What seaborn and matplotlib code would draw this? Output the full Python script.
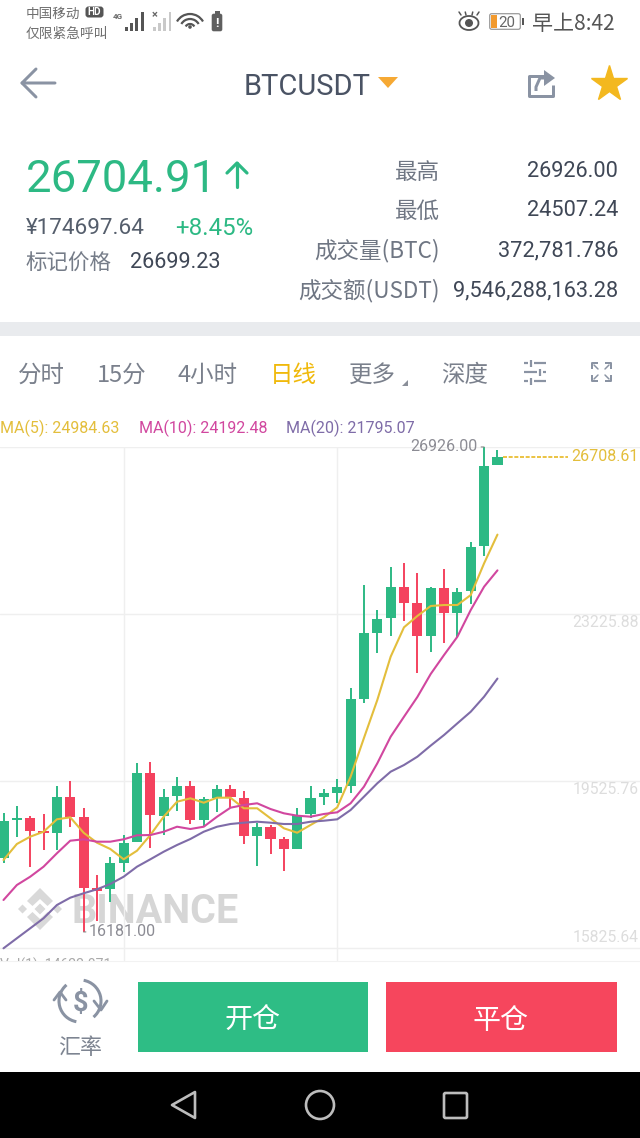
import numpy as np
import pandas as pd
import matplotlib
matplotlib.use("Agg")
import matplotlib.pyplot as plt
from matplotlib.patches import Rectangle, Polygon, Circle, Arc, FancyBboxPatch
from matplotlib.transforms import blended_transform_factory
import seaborn as sns

# ---------- data ----------
opens  = [17820,18662,18706,18418,18380,19165,18721,17148,17133,17716,18174,19703,18757,19200,19415,18662,19149,19355,19156,18314,
          18513,18234,18026,18788,19165,19267,19415,21343,22812,23131,23831,23463,22739,23809,23242,23742,24739,26521]
closes = [18646,18713,18425,18374,19165,18721,17148,17095,17702,18159,19703,18766,19178,19415,18662,19120,19355,19165,18314,18513,
          18247,18026,18766,19156,19253,19400,21343,22798,23109,23831,23476,22739,23809,23242,23720,24717,26505,26708.61]
highs  = [18817,18972,18757,18795,19415,19532,18921,17443,17848,18329,19931,19947,19342,19621,19519,19178,19430,19430,19304,18602,
          18551,18278,18934,19415,19342,19577,21580,23875,23315,24274,24363,24128,23831,24223,23809,24815,26926,26860]
lows   = [17716,18292,17627,17997,17997,18500,16181,16430,16851,17516,18174,18041,18329,18861,18566,18513,18846,18934,18123,17642,
          17902,17538,18012,18699,18994,19032,19267,21254,22369,22739,23078,21925,22391,22577,22723,23448,24511,26521]
ma5    = [17775,18130,18292,18402,18677,18721,18380,18159,18019,17791,17981,18329,18735,19067,19142,19045,19156,19156,18921,18921,
          18699,18478,18380,18551,18721,18943,19621,20479,21320,22280,22931,23182,23403,23425,23425,23647,24349,24984.63]
ma10   = [16889,17221,17405,17627,17924,18203,18234,18181,18181,18234,18323,18329,18402,18513,18462,18513,18735,18934,18994,19032,
          18905,18810,18757,18735,18795,18832,19032,19400,19918,20507,20950,21387,21897,22318,22723,23315,23831,24192.48]
ma20   = [15819,16041,16262,16484,16778,16940,17038,17126,17244,17405,17627,17791,17959,18108,18241,18402,18513,18573,18602,18624,
          18602,18573,18573,18624,18646,18677,18883,19178,19475,19732,19880,20064,20310,20545,20804,21061,21394,21795.07]
grid_prices = [26926.00, 23225.88, 19525.76, 15825.64]
axis_labels = ["23225.88", "19525.76", "15825.64"]
tabs = ["分时", "15分", "4小时", "日线", "更多", "深度"]
stats_labels = ["最高", "最低", "成交量(BTC)", "成交额(USDT)"]
stats_values = ["26926.00", "24507.24", "372,781.786", "9,546,288,163.28"]
ma_legend = ["MA(5): 24984.63", "MA(10): 24192.48", "MA(20): 21795.07"]

GREEN, RED = "#2DB984", "#F4425E"
C5, C10, C20 = "#E3BE3C", "#D1479F", "#7F6CA8"
GREY_ICON = "#8A93A3"

sns.set_theme(style="white")
plt.rcParams["font.family"] = ["Roboto", "Noto Sans CJK SC", "DejaVu Sans"]
CJK = ["Noto Sans CJK SC", "DejaVu Sans"]

fig = plt.figure(figsize=(6.4, 11.38), dpi=100, facecolor="white")
ui = fig.add_axes([0, 0, 1, 1], zorder=1)
ui.set_xlim(0, 640); ui.set_ylim(1138, 0); ui.axis("off")

def T(x, y, s, px, color, ha="left", weight="normal", family=None, ax=ui, **kw):
    return ax.text(x, y + 0.09 * px, s, fontsize=px * 0.72, color=color, ha=ha, va="center",
                   fontweight=weight, family=family or plt.rcParams["font.family"], **kw)

def L(xs, ys, color=GREY_ICON, px=2.0, **kw):
    ui.plot(xs, ys, color=color, lw=px * 0.72, solid_capstyle=kw.pop("cap", "round"),
            solid_joinstyle="round", **kw)

# ---------- status bar ----------
T(26, 12.5, "中国移动", 13.6, "#6F6F6F", family=CJK)
T(26, 33, "仅限紧急呼叫", 13.8, "#6F6F6F", family=CJK)
ui.add_patch(FancyBboxPatch((86, 7), 17, 10, boxstyle="round,pad=0.5,rounding_size=3", fc="#555555", ec="none"))
T(94.5, 11.5, "HD", 10, "white", ha="center", weight="bold")
T(113, 16, "4G", 8, "#666666", weight="bold")
for i, h in enumerate([4, 8, 13, 19]):
    ui.add_patch(Rectangle((125 + i * 5.2, 31 - h), 3, h, fc="#555555", ec="none"))
    ui.add_patch(Rectangle((153 + i * 5.2, 31 - h), 2.5, h, fc="#C9C9C9", ec="none"))
T(155, 14, "×", 11, "#666666", ha="center", weight="bold")
for r in (15, 10, 5):
    ui.add_patch(Arc((190, 29), 2 * r, 2 * r, theta1=-150, theta2=-30, color="#555555", lw=1.6))
ui.add_patch(Circle((190, 27), 1.8, fc="#555555", ec="none"))
ui.add_patch(FancyBboxPatch((212, 14), 10, 17, boxstyle="round,pad=0.3,rounding_size=2", fc="#5F5F5F", ec="none"))
ui.add_patch(Rectangle((214.5, 11), 5, 3, fc="#5F5F5F", ec="none"))
T(217, 22, "!", 13, "white", ha="center", weight="bold")
# eye
ui.add_patch(Arc((469, 23), 19, 14, color="#555555", lw=1.3))
ui.add_patch(Circle((469, 23), 4, fc="#555555", ec="none"))
for dx in (-8, -3, 3, 8):
    L([469 + dx, 469 + dx * 1.25], [15, 12], color="#555555", px=1.5)
# battery
ui.add_patch(FancyBboxPatch((490, 14), 30, 15, boxstyle="round,pad=0.3,rounding_size=2", fc="white", ec="#9A9A9A", lw=0.9))
ui.add_patch(Rectangle((491, 15), 5.5, 13, fc="#F29A2E", ec="none"))
ui.add_patch(Rectangle((522, 18), 1.8, 7, fc="#555555", ec="none"))
T(507, 21.5, "20", 15, "#666666", ha="center")
T(615, 22.5, "早上8:42", 21, "#555555", ha="right", family=CJK)

# ---------- header ----------
L([55, 22, 36], [83, 83, 69], px=3)
L([22, 36], [83, 97], px=3)
T(307, 84.5, "BTCUSDT", 29, "#4A5364", ha="center")
ui.add_patch(Polygon([(378, 77), (398, 77), (388, 88)], fc="#F6A934", ec="none"))
L([545, 529, 529, 553, 553], [76, 76, 96, 96, 85], px=3, cap="butt")
L([536, 536, 540, 551], [91, 87, 78, 78], px=3, cap="butt")
ui.add_patch(Polygon([(544, 70), (555, 78), (544, 86)], fc=GREY_ICON, ec="none"))
ui.plot([609], [84], marker="*", ms=27, mfc="#F3B81F", mec="#F3B81F")

# ---------- price block ----------
T(26, 176, "26704.91", 45.5, GREEN)
L([237, 237], [163, 187], color=GREEN, px=3.2)
L([227, 237, 247], [173, 163, 173], color=GREEN, px=3.2)
T(26, 226, "¥174697.64", 22.5, "#555E6C", family=["Roboto", "Noto Sans CJK SC"])
T(175, 226, "+8.45%", 24, GREEN)
T(26, 261, "标记价格", 21.5, "#757C88", family=CJK)
T(130, 261, "26699.23", 21.7, "#3F4756")
for y, lab, val in zip([170, 209, 249, 289], stats_labels, stats_values):
    T(440, y, lab, 22.5, "#6F7683", ha="right", family=CJK)
    T(618, y, val, 21.8, "#3F4756", ha="right")
ui.add_patch(Rectangle((0, 322), 640, 14, fc="#E9EBEE", ec="none"))

# ---------- tabs ----------
for s, cx in zip(tabs, [41.5, 122, 207.5, 293.5, 372.5, 464.5]):
    T(cx, 373, s, 23.5, "#F0B90B" if s == "日线" else "#7A808C", ha="center", family=CJK)
ui.add_patch(Polygon([(402, 386), (408, 386), (408, 380)], fc="#8A8F99", ec="none"))
for y, gap in [(363, 531), (372, 540), (381, 531)]:
    L([524, gap - 3], [y, y], px=2.2, cap="butt")
    L([gap + 3, 546], [y, y], px=2.2, cap="butt")
    L([gap, gap], [y - 3.5, y + 3.5], px=2.2, cap="butt")
for cx, cy, sx, sy in [(592, 363, 1, 1), (611, 363, -1, 1), (592, 381, 1, -1), (611, 381, -1, -1)]:
    L([cx + sx * 6, cx, cx], [cy, cy, cy + sy * 6], px=2, cap="butt")
    L([cx + sx * 2, cx + sx * 6], [cy + sy * 2, cy + sy * 6], px=1.5)

# ---------- MA legend ----------
for s, x, c in zip(ma_legend, [0, 139, 286], [C5, C10, C20]):
    T(x, 426.5, s, 16, c)

# ---------- watermark ----------
WM = "#D9D9D9"
T(71, 908.5, "BINANCE", 39.5, "#D6D6D6", weight="bold")
def dia(cx, cy, r):
    ui.add_patch(Polygon([(cx - r, cy), (cx, cy - r), (cx + r, cy), (cx, cy + r)], fc=WM, ec="none"))
dia(40, 909, 5.5); dia(22.5, 909, 4.5); dia(57.5, 909, 4.5)
ui.add_patch(Polygon([(40, 888), (53, 901), (47.5, 906), (40, 899), (32.5, 906), (27, 901)], fc=WM, ec="none"))
ui.add_patch(Polygon([(40, 930), (53, 917), (47.5, 912), (40, 919), (32.5, 912), (27, 917)], fc=WM, ec="none"))

# ---------- chart ----------
X_LEFT, STEP = 3.5, 13.35
ax = fig.add_axes([0, 1 - 961 / 1138, 1, (961 - 447) / 1138], zorder=2)
ax.patch.set_alpha(0)
ppx = (23225.88 - 19525.76) / 167.0
ax.set_ylim(23225.88 - (961 - 614) * ppx, 23225.88 + (614 - 447) * ppx)
ax.set_xlim(-X_LEFT / STEP, (640 - X_LEFT) / STEP)
df = pd.DataFrame({"i": np.arange(len(opens)), "open": opens, "close": closes, "high": highs, "low": lows,
                   "ma5": ma5, "ma10": ma10, "ma20": ma20})
ax.set_yticks(grid_prices)
ax.set_xticks([9, 25])
ax.grid(True, color="#EFEFEF", lw=1.0)
ax.set_axisbelow(True)
ax.tick_params(left=False, bottom=False, labelleft=False, labelbottom=False)
for s in ax.spines.values():
    s.set_visible(False)
up = df["close"] >= df["open"]
cols = np.where(up, GREEN, RED)
ax.vlines(df["i"], df["low"], df["high"], colors=cols, lw=1.4, zorder=3)
ax.bar(df["i"], (df["close"] - df["open"]).abs(), bottom=df[["open", "close"]].min(axis=1),
       width=0.76, color=cols, linewidth=0, zorder=3)
for col, c in zip(["ma5", "ma10", "ma20"], [C5, C10, C20]):
    sns.lineplot(data=df, x="i", y=col, ax=ax, color=c, lw=1.5, zorder=4, legend=False, errorbar=None)
ax.set_xlabel(""); ax.set_ylabel("")

trans = blended_transform_factory(ax.transAxes, ax.transData)
for lab, dy in zip(axis_labels, [-9, -9, 10]):
    ax.annotate(lab, xy=(1, float(lab)), xycoords=trans, xytext=(-1.2, dy * 0.72), textcoords="offset points",
                ha="right", va="center", fontsize=15.8 * 0.72, color="#DDDDDD")
ax.annotate(f"{highs[36]:.2f}", xy=(36, highs[36]), xytext=(-4.5, 0.5), textcoords="offset points",
            ha="right", va="center", fontsize=16 * 0.72, color="#8C8C94",
            arrowprops=dict(arrowstyle="-", color="#888888", lw=0.8, shrinkA=0, shrinkB=0))
ax.annotate(f"{lows[6]:.2f}", xy=(6, lows[6]), xytext=(4, 0.5), textcoords="offset points",
            ha="left", va="center", fontsize=16 * 0.72, color="#8C8C94",
            arrowprops=dict(arrowstyle="-", color="#888888", lw=0.8, shrinkA=0, shrinkB=0))
ax.plot([37.45, 42.3], [closes[37], closes[37]], color="#E8B923", lw=1.2, ls=(0, (2.4, 1.0)), zorder=4)
ax.annotate(f"{closes[37]:.2f}", xy=(1, closes[37]), xycoords=trans, xytext=(-1, 0), textcoords="offset points",
            ha="right", va="center", fontsize=16 * 0.72, color="#E3BE3C")
vol = ax.annotate("Vol(1): 14622.871", xy=(0, 0), xycoords="axes fraction", xytext=(0, -2.9), textcoords="offset points",
                  ha="left", va="center", fontsize=14 * 0.72, color="#AAAAAA", annotation_clip=False)
vol.set_clip_path(ax.patch)
vol.set_clip_on(True)
ui.plot([0, 640], [961, 961], color="#F2F2F2", lw=0.8)

# ---------- bottom bar ----------
ui.add_patch(Rectangle((138, 982), 230, 70, fc="#2EBD85", ec="none"))
ui.add_patch(Rectangle((386, 982), 231, 70, fc="#F6465D", ec="none"))
T(253, 1018, "开仓", 28, "white", ha="center", family=CJK)
T(501, 1018, "平仓", 28, "white", ha="center", family=CJK)
T(80, 1046, "汇率", 22, "#7D8491", ha="center", family=CJK)
T(80, 1001, "$", 27, GREY_ICON, ha="center", weight="bold")
ui.add_patch(Arc((80, 1001), 42, 42, theta1=-80, theta2=50, color=GREY_ICON, lw=2.2))
ui.add_patch(Arc((80, 1001), 42, 42, theta1=100, theta2=230, color=GREY_ICON, lw=2.2))
L([54, 60, 66], [1000, 992, 1000], px=2.8)
L([94, 101, 107], [1001, 1010, 1001], px=2.8)

# ---------- nav bar ----------
ui.add_patch(Rectangle((0, 1072), 640, 66, fc="black", ec="none"))
NAV = "#BDBDBD"
ui.add_patch(Polygon([(172, 1105), (195, 1092), (195, 1118)], closed=True, fc="none", ec=NAV, lw=1.9, joinstyle="round"))
ui.add_patch(Circle((320, 1105), 14, fc="none", ec=NAV, lw=1.9))
ui.add_patch(FancyBboxPatch((444, 1093), 23, 25, boxstyle="round,pad=0,rounding_size=1.5", fc="none", ec=NAV, lw=1.9))

fig.savefig("out.png", dpi=100)
